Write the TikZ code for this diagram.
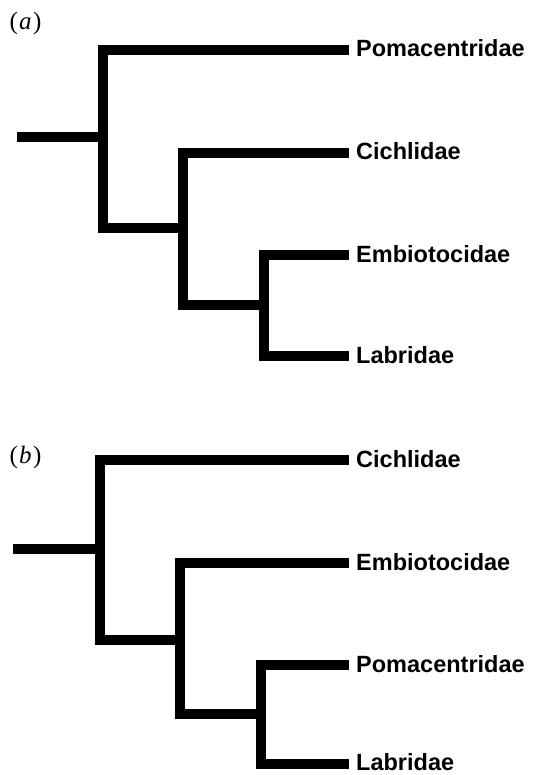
\documentclass[tikz,border=0pt]{standalone}
\usepackage{fontspec}
\setmainfont{Liberation Serif}
\newfontfamily\taxonfont{Liberation Sans}
\begin{document}
\begin{tikzpicture}[x=1pt, y=-1pt,
  branch/.style={line width=9.5pt, line join=miter, line cap=butt, black},
  taxon/.style={font=\taxonfont\bfseries\fontsize{23.5}{28}\selectfont,
    anchor=base west, inner sep=0pt},
  panel/.style={font=\fontsize{25}{30}\selectfont, inner sep=0pt}]
\useasboundingbox (0,0) rectangle (532,775);

% ---------- tree (a) ----------
\node[panel] (a-lab) at (25.5,23) {(\kern1pt\textit{a}\kern1.5pt)};
\coordinate (a-root) at (17,137);
\coordinate (a-n1) at (103,137);
\coordinate (a-n2) at (183,228);
\coordinate (a-n3) at (264,305);
\coordinate (a-t1) at (349,50);
\coordinate (a-t2) at (349,153);
\coordinate (a-t3) at (349,255);
\coordinate (a-t4) at (349,356);
\node[taxon] (a-pom) at ([shift={(7,7)}]a-t1) {Pomacentridae};
\node[taxon] (a-cic) at ([shift={(7,7)}]a-t2) {Cichlidae};
\node[taxon] (a-emb) at ([shift={(7,7)}]a-t3) {Embiotocidae};
\node[taxon] (a-lab2) at ([shift={(7,7)}]a-t4) {Labridae};
\draw[branch] (a-root) -- (a-n1);
\draw[branch] (a-t1) -| (a-n1) |- (a-n2);
\draw[branch] (a-t2) -| (a-n2) |- (a-n3);
\draw[branch] (a-t3) -| (a-n3) |- (a-t4);

% ---------- tree (b) ----------
\node[panel] (b-lab) at (25.5,457) {(\kern1pt\textit{b}\kern1.5pt)};
\coordinate (b-root) at (13,549);
\coordinate (b-n1) at (100,549);
\coordinate (b-n2) at (180,640);
\coordinate (b-n3) at (261,714);
\coordinate (b-t1) at (349,460);
\coordinate (b-t2) at (349,563);
\coordinate (b-t3) at (349,665);
\coordinate (b-t4) at (349,764);
\node[taxon] (b-cic) at ([shift={(7,7)}]b-t1) {Cichlidae};
\node[taxon] (b-emb) at ([shift={(7,7)}]b-t2) {Embiotocidae};
\node[taxon] (b-pom) at ([shift={(7,7)}]b-t3) {Pomacentridae};
\node[taxon] (b-lab2) at ([shift={(7,6)}]b-t4) {Labridae};
\draw[branch] (b-root) -- (b-n1);
\draw[branch] (b-t1) -| (b-n1) |- (b-n2);
\draw[branch] (b-t2) -| (b-n2) |- (b-n3);
\draw[branch] (b-t3) -| (b-n3) |- (b-t4);
\end{tikzpicture}
\end{document}
